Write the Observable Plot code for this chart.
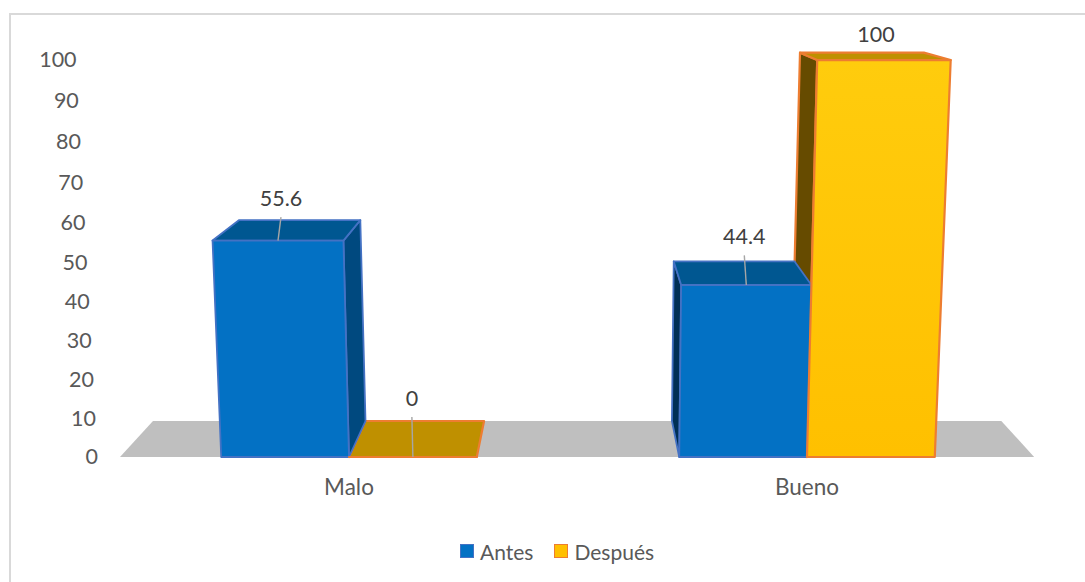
<!DOCTYPE html>
<html lang="es">
<head>
<meta charset="utf-8">
<script src="https://cdn.jsdelivr.net/npm/d3@7"></script>
<script src="https://cdn.jsdelivr.net/npm/@observablehq/plot@0.6"></script>
<style>
  html, body { margin: 0; padding: 0; background: #fff; }
  body { position: relative; width: 1085px; height: 582px; overflow: hidden; font-family: Lato, sans-serif; }
  #border { position: absolute; left: 9px; top: 13px; right: 0; bottom: 0; border-left: 2px solid #d9d9d9; border-top: 2px solid #d9d9d9; pointer-events: none; }
  #chart svg { display: block; }
  #legend { position: absolute; left: 460px; top: 537px; display: flex; align-items: center; height: 28px; font-size: 21px; color: #595959; }
  #legend i { display: block; width: 12px; height: 12px; border-width: 1.5px; border-style: solid; margin-right: 6px; }
  #legend span { margin-right: 21px; }
</style>
</head>
<body>
<div id="border"></div>
<div id="chart"></div>
<div id="legend"></div>
<script>
// Survey results before and after, shown as perspective 3D columns
const categories = ["Malo", "Bueno"];
const seriesNames = ["Antes", "Después"];
const antes = [55.6, 44.4];
const despues = [0, 100];
const valueTicks = [0, 10, 20, 30, 40, 50, 60, 70, 80, 90, 100];

// Camera: columns widen with height and shrink with depth towards the chart centre
const rise = 0.000427;
const depthShrink = 0.072;
const floorDepth = 9.47;
const columnWidth = 0.279;
const centre = 0.5;
const pxPerX = 458;
const pxPerY = 3.8;

const apparent = (h) => h / (1 - rise * h);
const project = (x, h, d) => {
  const k = (1 / (1 - rise * h)) * (1 - depthShrink * d);
  return {px: centre + (x - centre) * k, py: apparent(h) * (1 - depthShrink * d) + d * floorDepth};
};

const blue = {front: "#0371c4", top: "#005791", right: "#00497f", left: "#002f55", line: "#4472c4", width: 1.8};
const gold = {front: "url(#goldFront)", top: "#bf9000", right: "#7f6000", left: "#664b00", line: "#ed7d31", width: 2.2};

const face = (corners, fill, stroke, strokeWidth) => {
  const pts = corners.map(([x, h, d]) => project(x, h, d));
  return Plot.line([...pts, pts[0]], {x: "px", y: "py", fill, stroke, strokeWidth, strokeLinejoin: "round"});
};

const backFaces = (x0, h, s) => {
  const x1 = x0 + columnWidth;
  const faces = [];
  if (x1 < centre && h > 0) faces.push(face([[x1, 0, 0], [x1, h, 0], [x1, h, 1], [x1, 0, 1]], s.right, s.line, s.width));
  if (x0 > centre && h > 0) faces.push(face([[x0, 0, 0], [x0, h, 0], [x0, h, 1], [x0, 0, 1]], s.left, s.line, s.width));
  faces.push(face([[x0, h, 0], [x1, h, 0], [x1, h, 1], [x0, h, 1]], s.top, s.line, s.width));
  return faces;
};
const frontFace = (x0, h, s) => {
  const x1 = x0 + columnWidth;
  return face([[x0, 0, 0], [x1, 0, 0], [x1, h, 0], [x0, h, 0]], s.front, s.line, s.width);
};

const columns = categories.flatMap((_, i) => [
  {x0: i - columnWidth, h: antes[i], s: blue},
  {x0: i, h: despues[i], s: gold}
]);

// Pixel nudges that keep each value label clear of its column
const labelNudges = [[3, 21], [-1, 22], [-2, 24], [-8, 18]];
const labels = columns.map((c, i) => {
  const mid = project(c.x0 + columnWidth / 2, c.h, 0);
  const back = project(c.x0, c.h, 1);
  const [nx, ny] = labelNudges[i];
  const lx = mid.px + nx / pxPerX;
  const ly = back.py + ny / pxPerY;
  return {value: c.h, midX: mid.px, midY: mid.py, lx, ly, leadY: ly - 18 / pxPerY};
});
const leaders = labels.filter((d) => (d.leadY - d.midY) * pxPerY > 10);

const floor = face([[-0.5, 0, 0], [1.496, 0, 0], [1.496, 0, 1], [-0.5, 0, 1]], "#bfbfbf", "none", 0);

const chart = Plot.plot({
  width: 1085,
  height: 530,
  marginLeft: 119.5,
  marginRight: 49.5,
  marginTop: 76.5,
  marginBottom: 73.5,
  style: {fontFamily: "Lato, sans-serif", background: "transparent", overflow: "visible"},
  x: {domain: [-0.5, 1.5], axis: null},
  y: {domain: [0, 100], axis: null},
  marks: [
    () => {
      const defs = d3.create("svg:defs");
      const g = defs.append("linearGradient").attr("id", "goldFront")
        .attr("x1", 0).attr("y1", 0).attr("x2", 0).attr("y2", 1);
      g.append("stop").attr("offset", 0).attr("stop-color", "#ffcc0d");
      g.append("stop").attr("offset", 1).attr("stop-color", "#ffc000");
      return defs.node();
    },
    floor,
    ...columns.filter((c) => c.s === gold).flatMap((c) => backFaces(c.x0, c.h, c.s)),
    ...columns.filter((c) => c.s === blue).flatMap((c) => [...backFaces(c.x0, c.h, c.s), frontFace(c.x0, c.h, c.s)]),
    ...columns.filter((c) => c.s === gold).map((c) => frontFace(c.x0, c.h, c.s)),
    Plot.link(leaders, {x1: "midX", y1: "midY", x2: "lx", y2: "leadY", stroke: "#a6a6a6", strokeWidth: 1.4}),
    Plot.text(labels, {x: "lx", y: "ly", text: (d) => String(d.value), fontSize: 21.5, fill: "#404040"}),
    Plot.text(valueTicks, {
      x: (v) => project(-0.548, v, 0).px,
      y: (v) => apparent(v),
      text: (v) => String(v),
      textAnchor: "end",
      fontSize: 21.5,
      fill: "#595959"
    }),
    Plot.axisX([0, 1], {
      tickFormat: (i) => categories[i],
      tickSize: 0,
      tickPadding: 22,
      fontSize: 22.5,
      color: "#595959",
      label: null
    })
  ]
});
document.getElementById("chart").append(chart);

// Legend sits under the plot area
const legend = d3.select("#legend");
seriesNames.forEach((name, i) => {
  const s = i === 0 ? {fill: "#0371c4", line: "#4472c4"} : {fill: "#ffc000", line: "#ed7d31"};
  legend.append("i").style("background", s.fill).style("border-color", s.line);
  legend.append("span").text(name);
});
</script>
</body>
</html>
